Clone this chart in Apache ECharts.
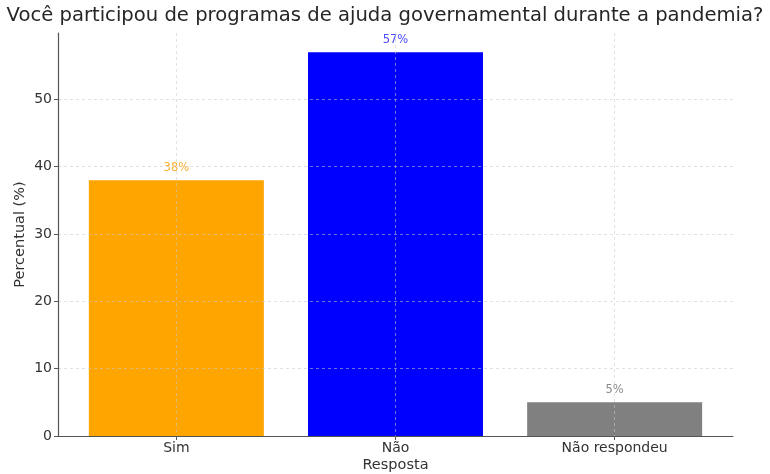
<!DOCTYPE html>
<html>
<head>
<meta charset="utf-8">
<script src="https://cdn.jsdelivr.net/npm/echarts@6/dist/echarts.min.js"></script>
<style>
html,body{margin:0;padding:0;background:#fff;}
#chart{width:770px;height:474px;}
</style>
</head>
<body>
<div id="chart"></div>
<script>
const categories = ["Sim", "Não", "Não respondeu"];
const values = [38, 57, 5];
const barColors = ["#FFA500", "#0000FF", "#808080"];
const labelColors = ["#FFB02E", "#4B4BFF", "#8A8A8A"];
const yTicks = [0, 10, 20, 30, 40, 50];
const titleText = "Você participou de programas de ajuda governamental durante a pandemia?";
const xTitle = "Resposta";
const yTitle = "Percentual (%)";

const chart = echarts.init(document.getElementById('chart'), null, {renderer: 'canvas'});
const catIdx = categories.map((c, i) => i);
const font = "'DejaVu Sans', sans-serif";
const gridColor = 'rgba(200,200,200,0.55)';

const option = {
  animation: false,
  backgroundColor: '#fff',
  graphic: [{
    type: 'text', x: 0, y: 0, silent: true, z: 10,
    style: {x: 392, y: -31, text: titleText, font: "32px 'Liberation Serif', serif", fill: '#000',
      align: 'center', verticalAlign: 'top'}
  }],
  title: {
    text: titleText, left: 'center', top: 1,
    textStyle: {fontFamily: font, fontSize: 19.6, fontWeight: 'normal', color: '#262626'}
  },
  grid: {left: 58, right: 37, top: 33, bottom: 38, containLabel: false, outerBoundsMode: 'none'},
  xAxis: {
    type: 'value', min: -0.54, max: 2.54, z: 5,
    name: xTitle, nameLocation: 'middle', nameGap: 22, nameMoveOverlap: false,
    nameTextStyle: {fontFamily: font, fontSize: 14.5, color: '#333'},
    axisLine: {show: true, onZero: false, lineStyle: {color: '#555', width: 1.2}},
    axisTick: {show: true, customValues: catIdx, length: 4, inside: false, lineStyle: {color: '#555'}},
    axisLabel: {customValues: catIdx, fontFamily: font, fontSize: 14, color: '#333', margin: 5,
      formatter: v => categories[Math.round(v)]},
    splitLine: {show: true, customValues: catIdx, lineStyle: {color: gridColor, type: [3, 3], width: 1}}
  },
  yAxis: {
    type: 'value', min: 0, max: 59.85, interval: 10, z: 5,
    name: yTitle, nameLocation: 'middle', nameGap: 30, nameMoveOverlap: false,
    nameTextStyle: {fontFamily: font, fontSize: 14.5, color: '#333'},
    axisLine: {show: true, onZero: false, lineStyle: {color: '#555', width: 1.2}},
    axisTick: {show: true, customValues: yTicks, length: 4, lineStyle: {color: '#555'}},
    axisLabel: {customValues: yTicks, fontFamily: font, fontSize: 14, color: '#333', margin: 6},
    splitLine: {show: true, lineStyle: {color: gridColor, type: [3, 3], width: 1}}
  },
  series: [{
    type: 'bar',
    barWidth: 175,
    data: values.map((v, i) => ({
      value: [i, v],
      itemStyle: {color: barColors[i]},
      label: {show: true, position: 'top', distance: 6, formatter: v + '%',
        fontFamily: font, fontSize: 11.5, color: labelColors[i]}
    }))
  }]
};
chart.setOption(option);
</script>
</body>
</html>
